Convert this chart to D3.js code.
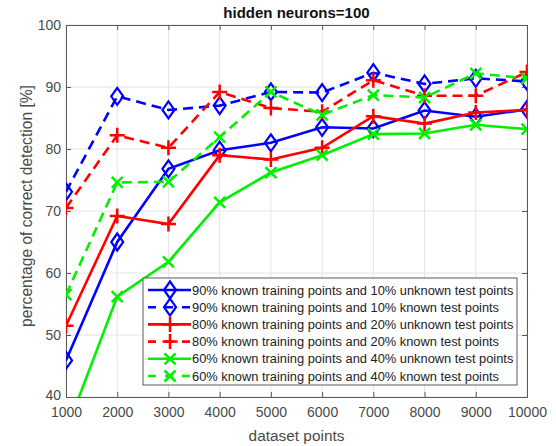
<!DOCTYPE html>
<html>
<head>
<meta charset="utf-8">
<script src="https://cdn.jsdelivr.net/npm/d3@7"></script>
<style>
  html, body { margin: 0; padding: 0; background: #fff; }
  svg { display: block; font-family: "Liberation Sans", Arial, sans-serif; }
</style>
</head>
<body>
<svg id="chart" width="556" height="446"></svg>
<script>
// Dataset sizes (x axis)
const datasetPoints = [1000, 2000, 3000, 4000, 5000, 6000, 7000, 8000, 9000, 10000];

// Correct detection percentages per configuration
const train90Unknown = [45.9, 65.0, 76.8, 79.8, 81.0, 83.5, 83.3, 86.2, 85.2, 86.4];
const train90Known   = [73.1, 88.5, 86.3, 87.0, 89.2, 89.1, 92.3, 90.5, 91.4, 90.9];
const train80Unknown = [51.5, 69.2, 67.9, 79.0, 78.3, 80.2, 85.3, 84.1, 85.9, 86.3];
const train80Known   = [70.5, 82.2, 80.2, 89.2, 86.6, 86.0, 91.1, 88.6, 88.6, 92.4];
const train60Unknown = [34.5, 56.2, 61.8, 71.4, 76.2, 79.0, 82.4, 82.5, 83.9, 83.2];
const train60Known   = [56.5, 74.6, 74.7, 81.9, 89.2, 85.5, 88.7, 88.3, 92.2, 91.4];

const seriesNames = [
  "90% known training points and 10% unknown test points",
  "90% known training points and 10% known test points",
  "80% known training points and 20% unknown test points",
  "80% known training points and 20% known test points",
  "60% known training points and 40% unknown test points",
  "60% known training points and 40% known test points"
];

const yTicks = [40, 50, 60, 70, 80, 90, 100];
const titleText = "hidden neurons=100";
const xLabelText = "dataset points";
const yLabelText = "percentage of correct detection [%]";

const series = [
  { name: seriesNames[0], values: train90Unknown, color: "#0000ff", dashed: false, marker: "diamond" },
  { name: seriesNames[1], values: train90Known,   color: "#0000ff", dashed: true,  marker: "diamond" },
  { name: seriesNames[2], values: train80Unknown, color: "#ff0000", dashed: false, marker: "plus" },
  { name: seriesNames[3], values: train80Known,   color: "#ff0000", dashed: true,  marker: "plus" },
  { name: seriesNames[4], values: train60Unknown, color: "#00f000", dashed: false, marker: "x" },
  { name: seriesNames[5], values: train60Known,   color: "#00f000", dashed: true,  marker: "x" }
];

const svg = d3.select("#chart");
const plotLeft = 66, plotRight = 527, plotTop = 25, plotBottom = 397;

const x = d3.scaleLinear().domain([1000, 10000]).range([plotLeft, plotRight]);
const y = d3.scaleLinear().domain([40, 100]).range([plotBottom, plotTop]);

const axisColor = "#5a5a5a";
const textColor = "#4a4a4a";

// Grid
const grid = svg.append("g").attr("class", "grid");
grid.selectAll("line.gx").data(datasetPoints).join("line")
  .attr("x1", d => x(d)).attr("x2", d => x(d))
  .attr("y1", plotTop).attr("y2", plotBottom)
  .attr("stroke", "#e4e4e4").attr("stroke-width", 1);
grid.selectAll("line.gy").data(yTicks).join("line")
  .attr("x1", plotLeft).attr("x2", plotRight)
  .attr("y1", d => y(d)).attr("y2", d => y(d))
  .attr("stroke", "#e4e4e4").attr("stroke-width", 1);

// Axes with inward ticks (box style)
const xAxis = d3.axisBottom(x).tickValues(datasetPoints).tickSize(-5).tickPadding(10)
  .tickFormat(d3.format("d"));
const yAxis = d3.axisLeft(y).tickValues(yTicks).tickSize(-5).tickPadding(5);
const xAxisTop = d3.axisTop(x).tickValues(datasetPoints).tickSize(-5).tickFormat("");
const yAxisRight = d3.axisRight(y).tickValues(yTicks).tickSize(-5).tickFormat("");

function styleAxis(g) {
  g.select(".domain").attr("stroke", axisColor).attr("stroke-width", 1);
  g.selectAll(".tick line").attr("stroke", axisColor);
  g.selectAll(".tick text").attr("fill", textColor)
    .style("font-size", "14px").style("font-family", "'Liberation Sans', Arial, sans-serif");
}

svg.append("g").attr("transform", `translate(0,${plotBottom})`).call(xAxis).call(styleAxis);
const yAxisG = svg.append("g").attr("transform", `translate(${plotLeft},0)`).call(yAxis).call(styleAxis);
// lift the lowest label slightly so it clears the first x label
yAxisG.selectAll(".tick text").filter(d => d === 40).attr("dy", "0.2em");
svg.append("g").attr("transform", `translate(0,${plotTop})`).call(xAxisTop).call(styleAxis);
svg.append("g").attr("transform", `translate(${plotRight},0)`).call(yAxisRight).call(styleAxis);

// Clip region for the data
svg.append("clipPath").attr("id", "plotClip")
  .append("rect").attr("x", plotLeft).attr("y", plotTop)
  .attr("width", plotRight - plotLeft).attr("height", plotBottom - plotTop);

const line = d3.line().x(d => x(d.x)).y(d => y(d.y));

function drawMarker(g, type, cx, cy, color) {
  if (type === "diamond") {
    const w = 6, h = 8.5;
    g.append("path")
      .attr("d", `M${cx},${cy - h}L${cx + w},${cy}L${cx},${cy + h}L${cx - w},${cy}Z`)
      .attr("fill", "none").attr("stroke", color).attr("stroke-width", 2.2);
  } else if (type === "plus") {
    const s = 7.5;
    g.append("path")
      .attr("d", `M${cx - s},${cy}L${cx + s},${cy}M${cx},${cy - s}L${cx},${cy + s}`)
      .attr("stroke", color).attr("stroke-width", 2.5).attr("fill", "none");
  } else if (type === "x") {
    const s = 5.5;
    g.append("path")
      .attr("d", `M${cx - s},${cy - s}L${cx + s},${cy + s}M${cx - s},${cy + s}L${cx + s},${cy - s}`)
      .attr("stroke", color).attr("stroke-width", 2.5).attr("fill", "none");
  }
}

const plot = svg.append("g").attr("clip-path", "url(#plotClip)");
series.forEach(s => {
  const pts = datasetPoints.map((xv, i) => ({ x: xv, y: s.values[i] }));
  plot.append("path").datum(pts)
    .attr("d", line)
    .attr("fill", "none")
    .attr("stroke", s.color)
    .attr("stroke-width", 2.6)
    .attr("stroke-dasharray", s.dashed ? "10,6" : null);
  const mg = plot.append("g");
  pts.forEach(p => drawMarker(mg, s.marker, x(p.x), y(p.y), s.color));
});

// Title and axis labels
svg.append("text").attr("x", (plotLeft + plotRight) / 2).attr("y", 18)
  .attr("text-anchor", "middle").attr("font-weight", "bold")
  .style("font-size", "15px").attr("fill", "#111").text(titleText);
svg.append("text").attr("x", (plotLeft + plotRight) / 2).attr("y", 441)
  .attr("text-anchor", "middle").style("font-size", "15.4px")
  .attr("fill", textColor).text(xLabelText);
svg.append("text")
  .attr("transform", `translate(31.5,206) rotate(-90)`)
  .attr("text-anchor", "middle").style("font-size", "15.6px")
  .attr("fill", textColor).text(yLabelText);

// Legend
const lgX = 143, lgY = 278, lgW = 374, lgH = 107, rowH = 17.2;
const legend = svg.append("g");
legend.append("rect").attr("x", lgX).attr("y", lgY).attr("width", lgW).attr("height", lgH)
  .attr("fill", "#fff").attr("stroke", axisColor).attr("stroke-width", 1);
series.forEach((s, i) => {
  const cy = lgY + 12 + i * rowH;
  legend.append("line")
    .attr("x1", lgX + 5).attr("x2", lgX + 48).attr("y1", cy).attr("y2", cy)
    .attr("stroke", s.color).attr("stroke-width", 2.6)
    .attr("stroke-dasharray", s.dashed ? "8,9" : null);
  drawMarker(legend, s.marker, lgX + 27, cy, s.color);
  legend.append("text").attr("x", lgX + 49).attr("y", cy + 4.5)
    .style("font-size", "12.85px").attr("fill", "#222").text(s.name);
});
</script>
</body>
</html>
